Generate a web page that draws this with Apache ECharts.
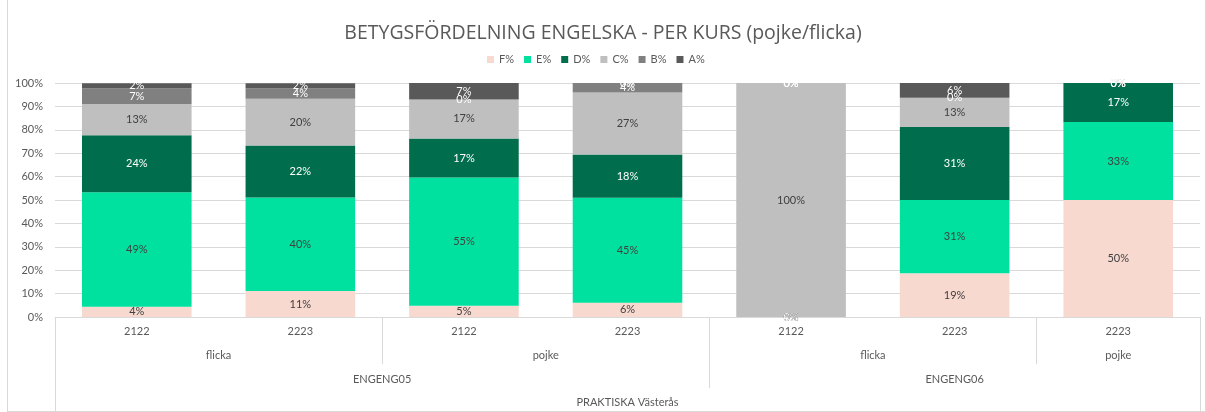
<!DOCTYPE html>
<html>
<head>
<meta charset="utf-8">
<script src="https://cdn.jsdelivr.net/npm/echarts@6/dist/echarts.min.js"></script>
<style>
html,body{margin:0;padding:0;background:#fff;}
#frame{position:absolute;left:7px;top:0;width:1197px;height:411px;border:1px solid #D9D9D9;border-top:none;}
#chart{position:absolute;left:0;top:0;width:1206px;height:412px;}
</style>
</head>
<body>
<div id="frame"></div>
<div id="chart"></div>
<script>
const years = ['2122','2223','2122','2223','2122','2223','2223'];
// second level (half-slot positions 0..14)
const genderLabels = {2:'flicka', 6:'pojke', 10:'flicka', 13:'pojke'};
const genderDividers = [0,4,8,12,14];
const courseLabels = {4:'ENGENG05', 11:'ENGENG06'};
const courseDividers = [0,8,14];
const schoolLabels = {7:'PRAKTISKA Västerås'};
const schoolDividers = [0,14];

const seriesNames = ['F%','E%','D%','C%','B%','A%'];
const F = [4.4, 11.1, 4.8, 6.1, 0, 18.75, 50];
const E = [48.9, 40.0, 54.8, 44.9, 0, 31.25, 33.3];
const D = [24.4, 22.2, 16.7, 18.4, 0, 31.25, 16.7];
const C = [13.3, 20.0, 16.7, 26.5, 100, 12.5, 0];
const B = [6.7, 4.4, 0, 4.1, 0, 0, 0];
const A = [2.2, 2.2, 7.0, 0, 0, 6.25, 0];

const colors = ['#F8D9D0','#00E09E','#006E4C','#BFBFBF','#808080','#595959'];
const labelColors = ['#404040','#404040','#FFFFFF','#404040','#FFFFFF','#FFFFFF'];
const values = [F,E,D,C,B,A];

const FONT = 'Lato';
const TXT = '#595959';
const LINE = '#D9D9D9';

const half = Array.from({length:15}, (_, i) => String(i));

function levelAxis(labels, dividers, margin, tickLen){
  return {
    type:'category', position:'bottom', gridIndex:0, boundaryGap:false,
    data: half,
    axisLine:{show:false},
    axisTick:{show:true, length:tickLen, interval:(i)=>dividers.indexOf(i)>=0, lineStyle:{color:LINE}},
    axisLabel:{interval:0, margin:margin, color:TXT, fontFamily:FONT, fontSize:11,
      formatter:(v, i)=> labels[i] || ''},
    splitLine:{show:false}
  };
}

const chart = echarts.init(document.getElementById('chart'), null, {renderer:'canvas'});
chart.setOption({
  animation:false,
  color: colors,
  title:{text:'BETYGSFÖRDELNING ENGELSKA - PER KURS (pojke/flicka)', left:'center', top:18,
    textStyle:{color:TXT, fontFamily:'Open Sans', fontSize:19.5, fontWeight:'normal'}},
  legend:{data:seriesNames, top:49, left:482, itemWidth:7, itemHeight:7, itemGap:10,
    icon:'rect', textStyle:{color:TXT, fontFamily:FONT, fontSize:11}},
  grid:{left:55, right:6, top:83, bottom:95, containLabel:false},
  xAxis:[
    {type:'category', data:years, position:'bottom',
      axisLine:{show:true, lineStyle:{color:LINE}}, axisTick:{show:false},
      axisLabel:{color:TXT, fontFamily:FONT, fontSize:11, margin:9, interval:0}},
    levelAxis(genderLabels, genderDividers, 33, 47),
    levelAxis(courseLabels, courseDividers, 57, 71),
    levelAxis(schoolLabels, schoolDividers, 80, 95)
  ],
  yAxis:{type:'value', min:0, max:100, interval:10,
    axisLine:{show:false}, axisTick:{show:false},
    axisLabel:{formatter:'{value}%', color:TXT, fontFamily:FONT, fontSize:11, margin:12},
    splitLine:{lineStyle:{color:LINE}}},
  series: seriesNames.map((n, k) => ({
    name:n, type:'bar', stack:'total', xAxisIndex:0, data:values[k],
    barCategoryGap:'33%',
    itemStyle:{color:colors[k]},
    label:{show:true, position:'inside', color:labelColors[k], fontFamily:FONT, fontSize:11,
      formatter:(p)=>Math.round(p.value)+'%'}
  }))
});
</script>
</body>
</html>
